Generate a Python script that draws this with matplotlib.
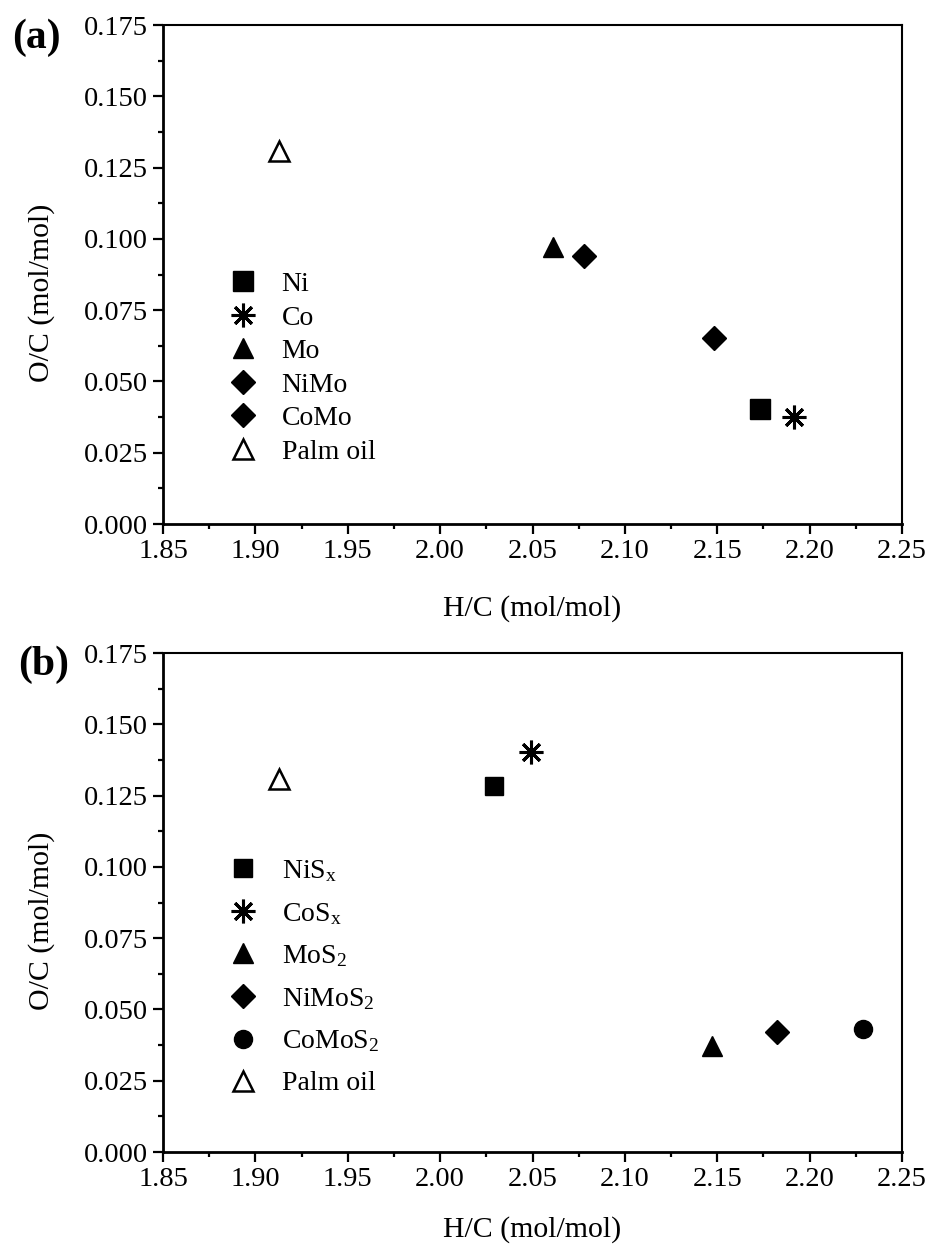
import matplotlib
matplotlib.use("Agg")
import matplotlib.pyplot as plt
from matplotlib.ticker import MultipleLocator, FormatStrFormatter

plt.rcParams['font.family'] = ['Liberation Serif', 'DejaVu Serif']
plt.rcParams['mathtext.fontset'] = 'custom'
plt.rcParams['mathtext.rm'] = 'Liberation Serif'
plt.rcParams['mathtext.it'] = 'Liberation Serif'

# Panel (a): metal catalysts
labels_a = ["Ni", "Co", "Mo", "NiMo", "CoMo", "Palm oil"]
hc_a = [2.173, 2.1915, 2.061, 2.078, 2.148, 1.913]
oc_a = [0.0403, 0.0376, 0.0972, 0.0941, 0.0651, 0.131]

# Panel (b): sulfided catalysts
labels_b = ["NiS$_{x}$", "CoS$_{x}$", "MoS$_{2}$", "NiMoS$_{2}$", "CoMoS$_{2}$", "Palm oil"]
hc_b = [2.029, 2.049, 2.147, 2.1825, 2.229, 1.913]
oc_b = [0.1284, 0.1403, 0.0372, 0.0420, 0.0430, 0.131]

xticks = [1.85, 1.90, 1.95, 2.00, 2.05, 2.10, 2.15, 2.20, 2.25]
yticks = [0.000, 0.025, 0.050, 0.075, 0.100, 0.125, 0.150, 0.175]

star = (8, 2, 0)
styles_a = [
    dict(marker='s', ms=14, mfc='black', mec='black'),
    dict(marker=star, ms=17, mfc='black', mec='black', mew=2.2),
    dict(marker='^', ms=15, mfc='black', mec='black'),
    dict(marker='D', ms=12.5, mfc='black', mec='black'),
    dict(marker='D', ms=12.5, mfc='black', mec='black'),
    dict(marker='^', ms=14, mfc='white', mec='black', mew=1.8),
]
styles_b = [
    dict(marker='s', ms=12.5, mfc='black', mec='black'),
    dict(marker=star, ms=17, mfc='black', mec='black', mew=2.2),
    dict(marker='^', ms=15, mfc='black', mec='black'),
    dict(marker='D', ms=12.5, mfc='black', mec='black'),
    dict(marker='o', ms=13, mfc='black', mec='black'),
    dict(marker='^', ms=14, mfc='white', mec='black', mew=1.8),
]

fig = plt.figure(figsize=(9.3, 12.48), dpi=100)
ax_a = fig.add_axes([0.1753, 0.5801, 0.7946, 0.3998])
ax_b = fig.add_axes([0.1753, 0.0769, 0.7946, 0.3998])


def draw_panel(ax, labels, hc, oc, styles, tag, tag_xy, leg_anchor,
               leg_spacing, xlabel_y):
    for lab, x, y, st in zip(labels, hc, oc, styles):
        ax.plot([x], [y], ls='none', label=lab, **st)
    ax.set_xlim(1.85, 2.25)
    ax.set_ylim(0.0, 0.175)
    ax.set_xticks(xticks)
    ax.set_yticks(yticks)
    ax.xaxis.set_minor_locator(MultipleLocator(0.025))
    ax.yaxis.set_minor_locator(MultipleLocator(0.0125))
    ax.xaxis.set_major_formatter(FormatStrFormatter('%.2f'))
    ax.yaxis.set_major_formatter(FormatStrFormatter('%.3f'))
    ax.tick_params(which='major', direction='out', length=7, width=1.6,
                   labelsize=20.5, top=False, right=False, pad=4)
    ax.tick_params(which='minor', direction='out', length=3.5, width=1.6,
                   top=False, right=False)
    for side in ('left', 'bottom'):
        ax.spines[side].set_linewidth(2.0)
    for side in ('top', 'right'):
        ax.spines[side].set_linewidth(1.5)
    ax.text(0.5, xlabel_y, "H/C (mol/mol)", transform=ax.transAxes,
            ha='center', va='center', fontsize=21.5)
    ax.text(-0.165, 0.463, "O/C (mol/mol)", transform=ax.transAxes,
            ha='center', va='center', rotation=90, fontsize=21.5)
    fig.text(tag_xy[0], tag_xy[1], tag, ha='center', va='center',
             fontsize=30, fontweight='bold')
    ax.legend(loc='upper left', bbox_to_anchor=leg_anchor, frameon=False,
              fontsize=20, borderpad=0, borderaxespad=0, handlelength=0.9,
              handletextpad=0.95, labelspacing=leg_spacing, numpoints=1)


draw_panel(ax_a, labels_a, hc_a, oc_a, styles_a, "(a)",
           (36 / 930, 1 - 38 / 1248), (0.091, 0.506), 0.29, -0.17)
draw_panel(ax_b, labels_b, hc_b, oc_b, styles_b, "(b)",
           (44 / 930, 1 - 665 / 1248), (0.091, 0.589), 0.6, -0.156)

fig.savefig("out.png", dpi=100)
